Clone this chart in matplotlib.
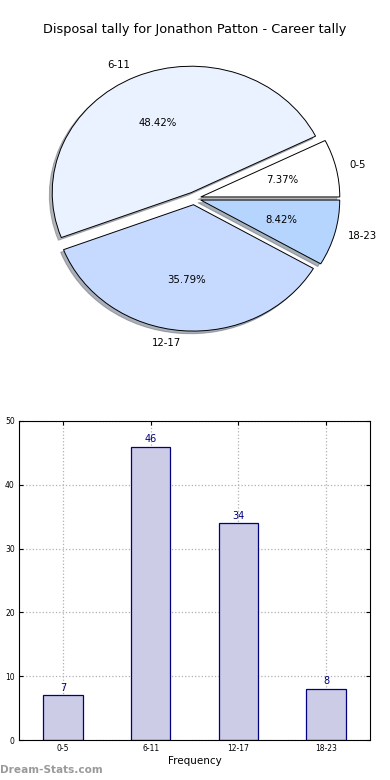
import numpy as np
import matplotlib
matplotlib.use("Agg")
import matplotlib.pyplot as plt

'''
DATA
'''
categories = ['0-5', '6-11', '12-17', '18-23']
counts = [7, 46, 34, 8]
pie_colors = ['#ffffff', '#eaf1ff', '#c6d9ff', '#b5d5ff']
title = 'Disposal tally for Jonathon Patton - Career tally'

fig = plt.figure(figsize=(3.9, 7.8), dpi=100)

'''
PIE
'''
ax1 = fig.add_axes([13.3 / 390, 0.535, 361.4 / 390, 328.6 / 780])
wedges, texts, autotexts = ax1.pie(counts, labels=categories, colors=pie_colors,
                                   explode=[0.05] * 4, autopct='%.2f%%',
                                   shadow={'ox': -0.015, 'oy': -0.015, 'shade': 0.55},
                                   startangle=0,
                                   wedgeprops={'edgecolor': 'black', 'linewidth': 0.7},
                                   textprops={'fontsize': 7.3})
ax1.set_aspect('auto')
ax1.set_xlim(-1.3, 1.3)
ax1.set_ylim(-1.3, 1.3)
ax1.axis('off')
fig.text(0.5, 1 - 30 / 780, title, ha='center', va='center', fontsize=9.3)

'''
BARS
'''
ax2 = fig.add_axes([19 / 390, 40 / 780, 351 / 390, 319 / 780])
x = np.arange(len(categories))
bars = ax2.bar(x, counts, width=0.45, color='#ccccе6'.replace('е', 'e'),
               edgecolor='#000080', linewidth=0.9, zorder=2)
for xi, c in zip(x, counts):
    ax2.text(xi, c + 0.4, str(c), ha='center', va='bottom', color='#000080', fontsize=7)
ax2.set_xlim(-0.5, 3.5)
ax2.set_ylim(0, 50)
ax2.set_xticks(x)
ax2.set_xticklabels(categories)
ax2.set_yticks([0, 10, 20, 30, 40, 50])
ax2.tick_params(direction='in', labelsize=5.5, length=3, top=True, right=True, pad=3)
ax2.grid(True, linestyle=':', color='#b0b0b0', linewidth=0.9, zorder=0)
ax2.set_axisbelow(True)
ax2.set_xlabel('Frequency', fontsize=7.5, labelpad=2)

fig.text(0.0, 10 / 780, 'Dream-Stats.com', ha='left', va='center', fontsize=7.6,
         fontweight='bold', color='#9a9a9a')

plt.savefig('out.png', dpi=100)
